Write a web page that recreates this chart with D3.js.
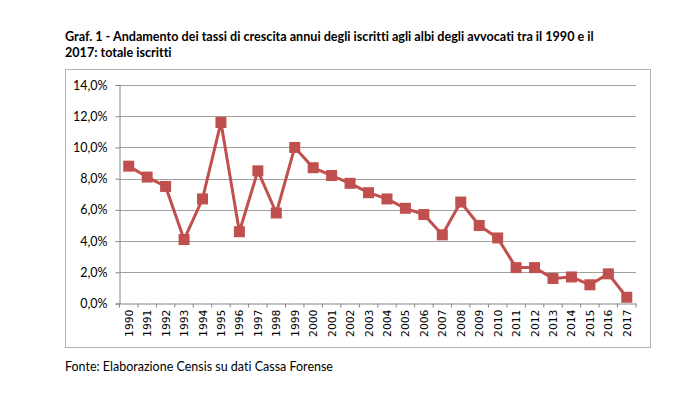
<!DOCTYPE html>
<html>
<head>
<meta charset="utf-8">
<script src="https://cdn.jsdelivr.net/npm/d3@7"></script>
<style>
  body { margin: 0; background: #fff; }
  svg { display: block; }
  text { font-variant-ligatures: none; }
</style>
</head>
<body>
<div id="chart"></div>
<script>
var width = 688,
    height = 399;

var years = ["1990", "1991", "1992", "1993", "1994", "1995", "1996", "1997", "1998", "1999",
             "2000", "2001", "2002", "2003", "2004", "2005", "2006", "2007", "2008", "2009",
             "2010", "2011", "2012", "2013", "2014", "2015", "2016", "2017"];

var growth = [8.8, 8.1, 7.5, 4.1, 6.7, 11.6, 4.6, 8.5, 5.8, 10.0,
              8.7, 8.2, 7.7, 7.1, 6.7, 6.1, 5.7, 4.4, 6.5, 5.0,
              4.2, 2.3, 2.3, 1.6, 1.7, 1.2, 1.9, 0.4];

var yTicks = [0, 2, 4, 6, 8, 10, 12, 14];

var titleLines = [
    "Graf. 1 - Andamento dei tassi di crescita annui degli iscritti agli albi degli avvocati tra il 1990 e il",
    "2017: totale iscritti"
];
var source = "Fonte: Elaborazione Censis su dati Cassa Forense";

var plot = { left: 119.5, right: 636, top: 85, bottom: 303.5 };

var svg = d3.select("#chart").append("svg")
    .attr("width", width)
    .attr("height", height);

// title
svg.selectAll(".title")
    .data(titleLines)
    .enter().append("text")
    .attr("class", "title")
    .attr("x", 65)
    .attr("y", function(d, i) { return 41 + i * 16; })
    .style("font-family", "Lato, 'Open Sans', sans-serif")
    .style("font-weight", "bold")
    .style("font-size", "12.6px")
    .style("fill", "#000")
    .text(function(d) { return d; });

// chart frame
svg.append("rect")
    .attr("x", 65.5)
    .attr("y", 69.5)
    .attr("width", 585)
    .attr("height", 278)
    .style("fill", "none")
    .style("stroke", "#b3b3b3")
    .style("stroke-width", 1);

var x = d3.scaleBand()
    .domain(years)
    .range([plot.left, plot.right]);

var y = d3.scaleLinear()
    .domain([0, 14])
    .range([plot.bottom, plot.top]);

// gridlines
svg.append("g")
    .selectAll("line")
    .data(yTicks.filter(function(d) { return d > 0; }))
    .enter().append("line")
    .attr("x1", plot.left)
    .attr("x2", plot.right)
    .attr("y1", function(d) { return Math.round(y(d)) + 0.5; })
    .attr("y2", function(d) { return Math.round(y(d)) + 0.5; })
    .style("stroke", "#a0a0a0")
    .style("stroke-width", 1);

// y axis
var yAxis = svg.append("g")
    .attr("transform", "translate(" + plot.left + ",0)")
    .call(d3.axisLeft(y)
        .tickValues(yTicks)
        .tickSize(4)
        .tickPadding(8)
        .tickFormat(function(d) { return d.toFixed(1).replace(".", ",") + "%"; }));

yAxis.selectAll("text")
    .style("font-family", "Lato, 'Open Sans', sans-serif")
    .style("font-size", "12.5px")
    .style("fill", "#000");

// x axis
var xAxis = svg.append("g")
    .attr("transform", "translate(0," + plot.bottom + ")")
    .call(d3.axisBottom(x).tickSize(0).tickFormat(""));

xAxis.selectAll(".edge")
    .data(years.concat(["end"]))
    .enter().append("line")
    .attr("class", "edge")
    .attr("x1", function(d, i) { return plot.left + i * x.step(); })
    .attr("x2", function(d, i) { return plot.left + i * x.step(); })
    .attr("y1", 0)
    .attr("y2", 4)
    .style("stroke", "#868686");

xAxis.selectAll(".year")
    .data(years)
    .enter().append("text")
    .attr("class", "year")
    .attr("transform", function(d) {
        return "translate(" + (x(d) + x.bandwidth() / 2 + 4) + ",6) rotate(-90)";
    })
    .attr("text-anchor", "end")
    .style("font-family", "'DejaVu Sans', Verdana, sans-serif")
    .style("font-size", "10.8px")
    .style("fill", "#000")
    .text(function(d) { return d; });

svg.selectAll(".domain, .tick line")
    .style("stroke", "#868686");

// series
var line = d3.line()
    .x(function(d, i) { return x(years[i]) + x.bandwidth() / 2; })
    .y(function(d) { return y(d); });

svg.append("path")
    .datum(growth)
    .attr("d", line)
    .style("fill", "none")
    .style("stroke", "#c0504d")
    .style("stroke-width", 3)
    .style("stroke-linejoin", "round");

svg.selectAll(".marker")
    .data(growth)
    .enter().append("rect")
    .attr("class", "marker")
    .attr("x", function(d, i) { return x(years[i]) + x.bandwidth() / 2 - 5.5; })
    .attr("y", function(d) { return y(d) - 5.5; })
    .attr("width", 11)
    .attr("height", 11)
    .style("fill", "#c0504d");

// source note
svg.append("text")
    .attr("x", 65)
    .attr("y", 371)
    .style("font-family", "Lato, 'Open Sans', sans-serif")
    .style("font-size", "12.5px")
    .style("fill", "#000")
    .text(source);
</script>
</body>
</html>
